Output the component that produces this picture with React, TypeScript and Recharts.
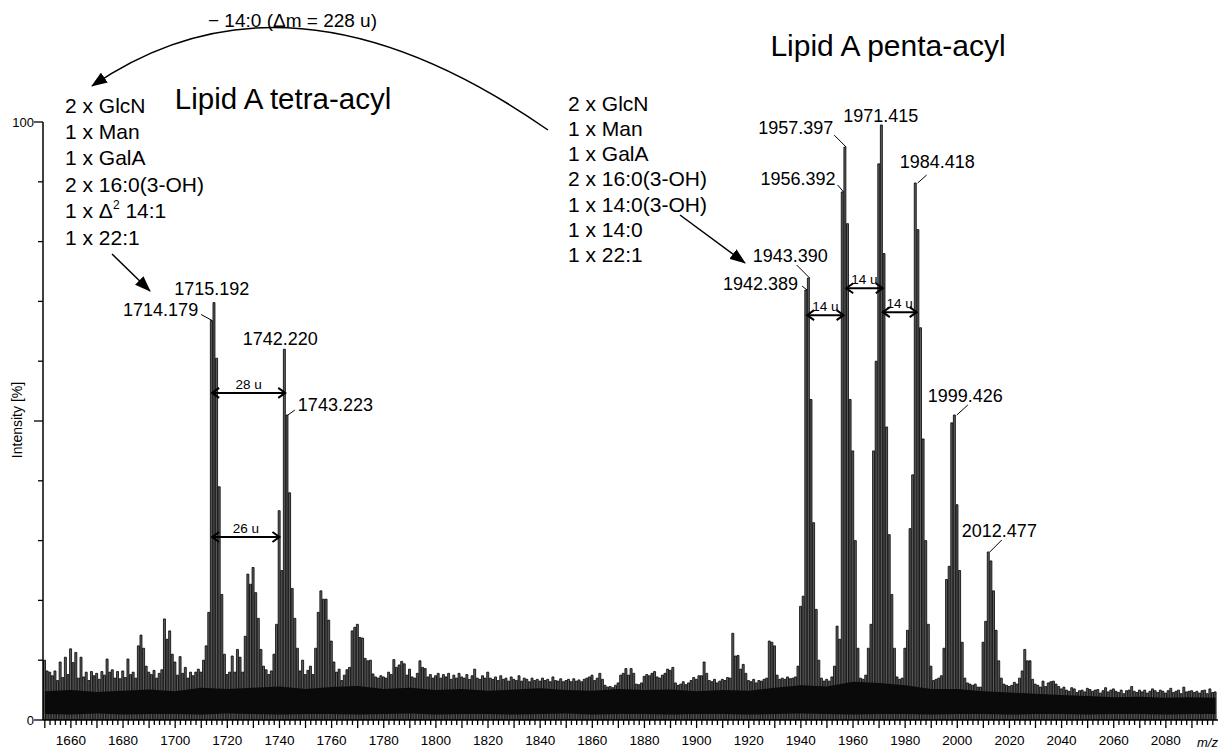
import React from "react";
import {
  Area,
  Bar,
  ComposedChart,
  ReferenceDot,
  ReferenceLine,
  XAxis,
  YAxis,
} from "recharts";

const FONT = '"Liberation Sans", Arial, Helvetica, sans-serif';

// noise floor, one stick per nominal mass, starting at m/z 1650 (rows of 10)
const MZ_START = 1650;
const noiseTop = [
  10.0, 8.2, 8.0, 7.4, 8.2, 6.6, 9.7, 7.1, 10.5, 7.6,
  11.9, 9.6, 11.3, 7.0, 10.5, 7.2, 8.0, 6.6, 8.1, 7.4,
  7.8, 6.8, 8.1, 7.5, 10.2, 8.0, 8.4, 7.0, 8.1, 6.9,
  8.2, 7.1, 10.2, 7.6, 8.0, 7.0, 12.4, 14.2, 12.0, 9.0,
  8.0, 7.6, 8.3, 7.0, 7.8, 8.4, 16.9, 13.5, 14.9, 11.0,
  9.7, 7.5, 10.6, 7.8, 8.8, 7.0, 8.0, 7.4, 8.0, 8.5,
  8.0, 9.0, 8.5, 8.0, 8.0, 8.0, 7.6, 7.2, 7.8, 7.0,
  7.6, 8.0, 8.6, 8.0, 8.5, 9.0, 8.0, 9.2, 8.0, 7.5,
  8.0, 8.0, 7.5, 7.0, 9.0, 8.4, 7.6, 8.2, 7.0, 8.0,
  7.5, 8.0, 7.5, 8.0, 7.8, 8.0, 7.0, 9.0, 8.2, 10.0,
  7.6, 8.3, 9.0, 7.6, 8.2, 9.6, 8.0, 8.0, 7.8, 8.0,
  7.5, 7.6, 8.0, 8.5, 6.6, 7.5, 8.4, 8.8, 8.8, 7.8,
  8.0, 8.0, 8.0, 10.3, 9.9, 10.0, 7.7, 7.2, 7.0, 7.4,
  7.2, 7.0, 8.0, 7.6, 10.1, 8.8, 9.2, 9.8, 9.4, 7.5,
  8.5, 7.2, 7.0, 7.8, 9.9, 8.8, 8.6, 7.2, 7.6, 7.0,
  7.4, 7.8, 7.0, 7.6, 7.2, 7.8, 6.8, 7.5, 7.0, 7.8,
  7.2, 7.0, 7.6, 6.8, 7.4, 8.5, 7.0, 6.8, 7.4, 7.0,
  8.0, 7.0, 6.8, 7.2, 6.6, 7.4, 6.8, 7.0, 6.5, 7.2,
  6.8, 6.6, 7.4, 6.5, 7.0, 6.8, 6.4, 7.0, 6.6, 6.8,
  6.5, 7.0, 6.6, 6.8, 6.4, 7.2, 6.6, 6.5, 6.9, 6.4,
  6.6, 6.8, 6.4, 6.9, 6.5, 6.7, 6.4, 6.8, 7.0, 7.2,
  7.5, 6.6, 7.0, 7.8, 6.8, 5.8, 5.5, 5.6, 5.4, 5.8,
  6.2, 7.5, 7.8, 8.6, 7.5, 8.6, 7.8, 6.0, 5.9, 6.2,
  7.3, 7.6, 7.4, 7.8, 8.1, 7.2, 7.0, 7.5, 7.8, 8.5,
  8.3, 8.8, 6.2, 5.8, 6.0, 6.4, 5.9, 6.2, 6.6, 7.1,
  6.8, 7.4, 7.4, 9.7, 7.8, 6.6, 6.4, 6.8, 6.2, 6.5,
  6.8, 6.6, 7.1, 7.0, 14.5, 10.7, 10.8, 8.5, 9.3, 7.8,
  6.6, 6.4, 6.8, 6.2, 6.6, 6.5, 6.8, 7.0, 13.2, 13.0,
  12.4, 7.5, 6.8, 7.0, 6.8, 7.2, 6.9, 7.0, 7.2, 8.0,
  8.0, 8.0, 8.0, 8.0, 8.0, 8.0, 8.0, 7.5, 7.0, 6.5,
  6.8, 6.5, 7.2, 8.0, 8.0, 8.0, 8.0, 8.0, 8.0, 8.0,
  8.0, 8.0, 7.2, 7.0, 6.8, 7.5, 8.0, 8.0, 8.0, 8.0,
  8.0, 8.0, 8.0, 8.0, 8.0, 8.0, 8.0, 7.2, 6.8, 7.0,
  8.0, 8.0, 8.0, 8.0, 8.0, 8.0, 8.0, 8.0, 8.0, 7.0,
  6.8, 6.6, 6.8, 7.0, 7.4, 8.0, 8.0, 8.0, 8.0, 8.0,
  8.0, 8.0, 8.0, 7.0, 6.2, 6.0, 5.8, 6.0, 5.5, 5.6,
  5.5, 7.0, 8.0, 8.0, 8.0, 8.0, 8.0, 7.0, 6.0, 5.8,
  5.6, 5.8, 6.3, 6.0, 7.0, 8.2, 11.8, 9.9, 9.9, 6.8,
  6.0, 5.8, 5.5, 6.5, 5.6, 6.2, 6.4, 6.5, 6.0, 5.6,
  5.2, 5.5, 5.0, 4.8, 5.4, 5.2, 4.6, 4.9, 5.0, 4.7,
  5.3, 5.1, 4.8, 5.0, 5.1, 4.5, 4.9, 5.4, 4.7, 5.0,
  5.2, 4.8, 4.6, 5.0, 4.4, 4.9, 5.0, 5.6, 4.8, 4.6,
  5.0, 4.7, 5.0, 4.5, 4.8, 5.2, 4.9, 4.6, 5.0, 4.8,
  4.5, 4.9, 5.3, 4.6, 4.8, 5.0, 4.4, 5.5, 4.7, 4.8,
  4.9, 4.6, 4.8, 4.5, 4.9, 5.0, 4.4, 5.2, 4.6, 4.7,
];

// isotope clusters above the noise
const peakMz = [
  1711, 1712, 1713, 1714, 1715, 1716, 1717, 1718, 1719,
  1722, 1724, 1725, 1726, 1727, 1728, 1729, 1730, 1731, 1732, 1733,
  1738, 1739, 1740, 1741, 1742, 1743, 1744, 1745, 1746, 1747,
  1754, 1755, 1756, 1757, 1758, 1759, 1760, 1761,
  1768, 1769, 1770, 1771, 1772,
  1939, 1940, 1941, 1942, 1943, 1944, 1945, 1946, 1947,
  1953, 1954, 1955, 1956, 1957, 1958, 1959, 1960, 1961, 1962,
  1966, 1967, 1968, 1969, 1970, 1971, 1972, 1973, 1974, 1975, 1976,
  1980, 1981, 1982, 1983, 1984, 1985, 1986, 1987, 1988, 1989, 1990,
  1995, 1996, 1997, 1998, 1999, 2000, 2001, 2002,
  2009, 2010, 2011, 2012, 2013, 2014, 2015, 2016, 2017,
];
const peakInt = [
  10, 12.4, 18, 66.8, 69.8, 60.5, 39, 21, 11,
  10.7, 11.8, 10.5, 8, 14, 24.4, 22.7, 25.5, 21.3, 17, 11.8,
  11, 16, 35, 25, 62, 51, 38, 22, 17, 12,
  12, 18, 21.6, 20.2, 20.2, 16.7, 13.2, 9.7,
  14.9, 15.5, 16, 13.8, 13.7,
  9, 19, 20.7, 71.9, 73.9, 53.6, 33, 18.5, 10,
  9, 15.7, 13.5, 88.3, 95.8, 83, 53.6, 45, 30, 12,
  12, 16, 45, 60, 93, 99.5, 78, 49, 31, 21, 12,
  12, 15, 32, 41, 89.8, 82, 65.6, 47, 30, 16, 9,
  12, 23.5, 25.7, 49.7, 51, 36, 25, 13,
  5.5, 13, 16.5, 28.1, 26.6, 21.6, 15, 9.9, 7,
];

// dense dark baseline band (envelope read every 10 u)
const bandMz = [
  1650, 1660, 1670, 1680, 1690, 1700, 1710, 1720, 1730, 1740, 1750, 1760,
  1770, 1780, 1790, 1800, 1810, 1820, 1830, 1840, 1850, 1860, 1870, 1880,
  1890, 1900, 1910, 1920, 1930, 1940, 1950, 1960, 1970, 1980, 1990, 2000,
  2010, 2020, 2030, 2040, 2050, 2060, 2070, 2080, 2090, 2099,
];
const bandHigh = [
  4.8, 5.0, 4.7, 4.9, 5.1, 4.8, 5.4, 5.2, 5.4, 5.6, 5.2, 5.5,
  5.7, 5.2, 5.4, 5.0, 5.2, 4.9, 5.1, 5.3, 5.0, 4.9, 5.2, 5.0,
  5.1, 4.8, 5.0, 4.9, 5.4, 5.8, 5.6, 6.4, 6.2, 5.8, 5.2, 5.2,
  4.8, 4.6, 4.4, 4.2, 4.0, 3.8, 3.9, 3.7, 3.8, 3.7,
];
const bandLow = [
  1.0, 0.9, 1.1, 0.9, 1.0, 1.0, 0.9, 1.1, 1.0, 0.9, 1.0, 1.0,
  0.9, 1.0, 1.1, 0.9, 1.0, 1.0, 0.9, 1.0, 1.1, 0.9, 1.0, 1.0,
  0.9, 1.0, 1.0, 0.9, 1.0, 1.1, 1.0, 0.9, 1.0, 1.0, 0.9, 1.0,
  1.0, 0.9, 1.0, 1.0, 0.9, 1.0, 1.0, 0.9, 1.0, 1.0,
];

// annotated peaks
const labelMz = [
  1714.179, 1715.192, 1742.22, 1743.223, 1942.389, 1943.39,
  1956.392, 1957.397, 1971.415, 1984.418, 1999.426, 2012.477,
];
const labelPlace = [
  { anchor: "end", tx: -14, ty: -5, lead: [-11, -6, 0, 0] },
  { anchor: "middle", tx: -3, ty: -8, lead: null },
  { anchor: "middle", tx: -5, ty: -4, lead: null },
  { anchor: "start", tx: 10, ty: -4, lead: [0, 0, 7, -5] },
  { anchor: "end", tx: -9, ty: 0, lead: [-5, -4, 0, 0] },
  { anchor: "end", tx: 18, ty: -16, lead: [-13, -13, 0, 0] },
  { anchor: "end", tx: -8, ty: -7, lead: [-6, -7, 0, 0] },
  { anchor: "end", tx: -13, ty: -13, lead: [-12, -12, 0, 0] },
  { anchor: "middle", tx: -2, ty: -3, lead: null },
  { anchor: "start", tx: -17, ty: -15, lead: [1, 0, 10, -8] },
  { anchor: "start", tx: -28, ty: -13, lead: [1, 0, 12, -10] },
  { anchor: "start", tx: -28, ty: -15, lead: [0, 0, 12, -12] },
];

// mass-difference arrows
const gapFrom = [1714.179, 1714.179, 1942.389, 1957.397, 1971.415];
const gapTo = [1742.22, 1740, 1956.392, 1971.415, 1984.418];
const gapLevel = [54.7, 30.6, 67.7, 72.2, 68.2];
const gapText = ["28 u", "26 u", "14 u", "14 u", "14 u"];

const xLabelTicks = [
  1660, 1680, 1700, 1720, 1740, 1760, 1780, 1800, 1820, 1840, 1860,
  1880, 1900, 1920, 1940, 1960, 1980, 2000, 2020, 2040, 2060, 2080,
];
const yTicks = [0, 10, 20, 30, 40, 50, 60, 70, 80, 90, 100];
const yLongTicks = [0, 50, 100];
const yLabels = [0, 100];

const leftComposition = ["2 x GlcN", "1 x Man", "1 x GalA", "2 x 16:0(3-OH)", "1 x Δ² 14:1", "1 x 22:1"];
const rightComposition = ["2 x GlcN", "1 x Man", "1 x GalA", "2 x 16:0(3-OH)", "1 x 14:0(3-OH)", "1 x 14:0", "1 x 22:1"];

const peakAt = new Map(peakMz.map((m, i) => [m, peakInt[i]]));
const bandAt = new Map(bandMz.map((m, i) => [m, [bandLow[i], bandHigh[i]]]));

const spectrum = noiseTop.map((n, i) => {
  const mz = MZ_START + i;
  return { mz, intensity: peakAt.get(mz) ?? n, band: bandAt.get(mz) ?? null };
});

const X_DOMAIN = [1649.3, 2100];
const CHART_W = 1225;
const CHART_H = 752;

const xTicks: number[] = [];
for (let m = 1650; m <= 2098; m += 2) xTicks.push(m);

function XTick(props: any) {
  const { x, y, payload } = props;
  const v = payload.value;
  const long = v % 10 === 0;
  return (
    <g>
      <line x1={x} y1={y} x2={x} y2={y + (long ? 8 : 5)} stroke="#000" strokeWidth={1.3} />
      {xLabelTicks.includes(v) && (
        <text x={x} y={y + 25} textAnchor="middle" fontSize={13.5} fontFamily={FONT} fill="#000">
          {v}
        </text>
      )}
    </g>
  );
}

function YTick(props: any) {
  const { x, y, payload } = props;
  const v = payload.value;
  const long = yLongTicks.includes(v);
  return (
    <g>
      <line x1={x} y1={y} x2={x - (long ? 9 : 5)} y2={y} stroke="#000" strokeWidth={1.3} />
      {yLabels.includes(v) && (
        <text x={x - 9} y={y + 4.5} textAnchor="end" fontSize={13} fontFamily={FONT} fill="#000">
          {v}
        </text>
      )}
    </g>
  );
}

function PeakLabel(props: any) {
  const { cx, cy, text, place } = props;
  const lead = place.lead;
  return (
    <g>
      {lead && (
        <line x1={cx + lead[0]} y1={cy + lead[1]} x2={cx + lead[2]} y2={cy + lead[3]} stroke="#000" strokeWidth={1} />
      )}
      <text x={cx + place.tx} y={cy + place.ty} textAnchor={place.anchor} fontSize={18} fontFamily={FONT} fill="#000">
        {text}
      </text>
    </g>
  );
}

function GapArrow(props: any) {
  const { x1, x2, y1, text } = props;
  const y = y1;
  return (
    <g fill="none" stroke="#000" strokeWidth={2}>
      <line x1={x1} y1={y} x2={x2} y2={y} />
      <polyline points={`${x1 + 7},${y - 5} ${x1},${y} ${x1 + 7},${y + 5}`} />
      <polyline points={`${x2 - 7},${y - 5} ${x2},${y} ${x2 - 7},${y + 5}`} />
      <text x={(x1 + x2) / 2} y={y - 4} textAnchor="middle" fontSize={13.5} fontFamily={FONT} fill="#000" stroke="none">
        {text}
      </text>
    </g>
  );
}

function CompositionLine({ x, y, text }: { x: number; y: number; text: string }) {
  if (text.includes("Δ²")) {
    const [a, b] = text.split("Δ²");
    return (
      <text x={x} y={y} fontSize={21} fontFamily={FONT} fill="#000">
        {a}Δ<tspan dy={-9} fontSize={12}>2</tspan>
        <tspan dy={9}>{b}</tspan>
      </text>
    );
  }
  return (
    <text x={x} y={y} fontSize={21} fontFamily={FONT} fill="#000">
      {text}
    </text>
  );
}

export default function App() {
  return (
    <div style={{ position: "absolute", left: 0, top: 0, width: CHART_W, height: CHART_H, background: "#fff" }}>
      <ComposedChart
        width={CHART_W}
        height={CHART_H}
        data={spectrum}
        margin={{ top: 122, right: 7, bottom: 7, left: 13 }}
      >
        <XAxis
          dataKey="mz"
          type="number"
          domain={X_DOMAIN}
          ticks={xTicks}
          interval={0}
          tick={(p: any) => <XTick {...p} />}
          tickSize={0}
          tickMargin={0}
          tickLine={false}
          axisLine={{ stroke: "#000", strokeWidth: 1.5 }}
          height={25}
          allowDataOverflow
        />
        <YAxis
          type="number"
          domain={[0, 100]}
          ticks={yTicks}
          interval={0}
          tick={(p: any) => <YTick {...p} />}
          tickSize={0}
          tickMargin={0}
          tickLine={false}
          axisLine={{ stroke: "#000", strokeWidth: 1.5 }}
          width={30}
          allowDataOverflow
        />
        <Bar
          dataKey="intensity"
          barSize={2}
          fill="#5e5e5e"
          stroke="#000"
          strokeWidth={0.8}
          isAnimationActive={false}
        />
        {gapText.map((t, i) => (
          <ReferenceLine
            key={`gap-${i}`}
            segment={[
              { x: gapFrom[i], y: gapLevel[i] },
              { x: gapTo[i], y: gapLevel[i] },
            ]}
            ifOverflow="visible"
            shape={(p: any) => <GapArrow {...p} text={t} />}
          />
        ))}
        {labelMz.map((m, i) => (
          <ReferenceDot
            key={`lab-${m}`}
            x={m}
            y={peakInt[peakMz.indexOf(Math.round(m))]}
            r={0}
            ifOverflow="visible"
            shape={(p: any) => <PeakLabel {...p} text={m.toFixed(3)} place={labelPlace[i]} />}
          />
        ))}
      </ComposedChart>

      {/* the dense baseline band sits on top of the sticks, same plot box */}
      <div style={{ position: "absolute", left: 0, top: 0, pointerEvents: "none" }}>
        <ComposedChart
          width={CHART_W}
          height={CHART_H}
          data={spectrum}
          margin={{ top: 122, right: 7, bottom: 32, left: 43 }}
        >
          <XAxis dataKey="mz" type="number" domain={X_DOMAIN} hide allowDataOverflow />
          <YAxis type="number" domain={[0, 100]} hide allowDataOverflow />
          <Area
            dataKey="band"
            type="linear"
            connectNulls
            fill="#0a0a0a"
            fillOpacity={1}
            stroke="none"
            dot={false}
            activeDot={false}
            isAnimationActive={false}
          />
        </ComposedChart>
      </div>

      <svg
        width={CHART_W}
        height={CHART_H}
        style={{ position: "absolute", left: 0, top: 0, pointerEvents: "none" }}
      >
        <defs>
          <marker id="head" markerUnits="userSpaceOnUse" markerWidth={16} markerHeight={12} refX={15} refY={6} orient="auto">
            <path d="M0,0 L16,6 L0,12 Z" fill="#000" />
          </marker>
        </defs>
        <path d="M 548 130 Q 290 -50 92 86" fill="none" stroke="#000" strokeWidth={1.5} markerEnd="url(#head)" />
        <path d="M 112 254 L 150 291" fill="none" stroke="#000" strokeWidth={1.5} markerEnd="url(#head)" />
        <path d="M 680 215 L 745 263" fill="none" stroke="#000" strokeWidth={1.5} markerEnd="url(#head)" />

        <text x={208} y={27} fontSize={19} fontFamily={FONT} fill="#000">
          − 14:0 (Δm = 228 u)
        </text>
        <text x={888} y={55.5} textAnchor="middle" fontSize={30} fontFamily={FONT} fill="#000">
          Lipid A penta-acyl
        </text>
        <text x={283} y={108.5} textAnchor="middle" fontSize={29.5} fontFamily={FONT} fill="#000">
          Lipid A tetra-acyl
        </text>
        {leftComposition.map((t, i) => (
          <CompositionLine key={`l-${i}`} x={65} y={112.5 + i * 26.4} text={t} />
        ))}
        {rightComposition.map((t, i) => (
          <CompositionLine key={`r-${i}`} x={568} y={110.5 + i * 25.3} text={t} />
        ))}

        <text
          x={22}
          y={420}
          transform="rotate(-90 22 420)"
          textAnchor="middle"
          fontSize={14}
          fontFamily={FONT}
          fill="#000"
        >
          Intensity [%]
        </text>
        <text x={1197} y={747} fontSize={13} fontStyle="italic" fontFamily={FONT} fill="#000">
          m/z
        </text>
      </svg>
    </div>
  );
}
